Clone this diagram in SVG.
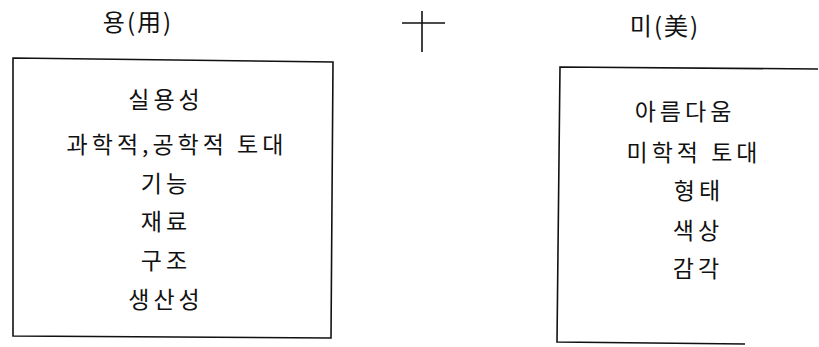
<svg xmlns="http://www.w3.org/2000/svg" width="819" height="347" viewBox="0 0 819 347">
<style>
text{font-family:"Noto Sans CJK KR","Noto Sans",sans-serif;font-size:23px;fill:#111;text-anchor:middle;dominant-baseline:central;letter-spacing:4px}
.h{font-size:24px;letter-spacing:2px}
.box{fill:none;stroke:#111;stroke-width:1.6}
</style>
<rect width="819" height="347" fill="#fff"/>
<g id="use-header"><text class="h" x="138" y="20">용(用)</text></g>
<g id="beauty-header"><text class="h" x="665" y="24">미(美)</text></g>
<g id="plus"><path class="box" d="M402 23H445M422 11V52"/></g>
<g id="use-box">
<path class="box" d="M13 58L333 62L331 338L13 336Z"/>
<text x="166" y="98">실용성</text>
<text x="177" y="143">과학적,공학적 토대</text>
<text x="166" y="182">기능</text>
<text x="166" y="220">재료</text>
<text x="166" y="259">구조</text>
<text x="166" y="298">생산성</text>
</g>
<g id="beauty-box">
<path class="box" d="M818 69L560 67L557 342L745 344"/>
<text x="685" y="110">아름다움</text>
<text x="694" y="151">미학적 토대</text>
<text x="699" y="189">형태</text>
<text x="698" y="229">색상</text>
<text x="698" y="267">감각</text>
</g>
</svg>
